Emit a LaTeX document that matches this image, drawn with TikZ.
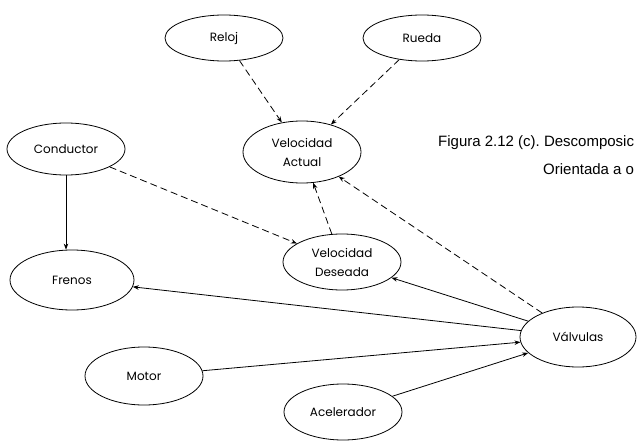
\documentclass[tikz,border=0pt]{standalone}
\usepackage{fontspec}
\setmainfont{Liberation Sans}
\newfontfamily\lblfont{Poppins}
\usetikzlibrary{shapes.geometric,arrows.meta}
\frenchspacing
\begin{document}
\begin{tikzpicture}[x=1pt,y=-1pt,
  ent/.style={draw,ellipse,line width=0.8pt,inner sep=0pt,minimum width=118pt,minimum height=56pt,font=\lblfont\fontsize{12}{19}\selectfont,align=center},
  conn/.style={line width=0.8pt,-{Stealth[length=6pt,width=4.5pt]}},
  dconn/.style={conn,dash pattern=on 7pt off 4pt},
  captxt/.style={font=\fontsize{15}{17}\selectfont,anchor=west,inner sep=0pt}]
\useasboundingbox (0,0) rectangle (637,441);
\clip (0,0) rectangle (637,441);
\node[ent,minimum height=46pt] (reloj) at (224,38) {Reloj};
\node[ent,minimum height=46pt] (rueda) at (422,38) {Rueda};
\node[ent,minimum height=62pt] (va) at (302,152) {Velocidad\\Actual};
\node[ent,minimum height=52pt] (cond) at (66,149) {Conductor};
\node[ent,minimum width=124pt,minimum height=60pt] (fren) at (72,280) {Frenos};
\node[ent] (vd) at (342,262) {Velocidad\\Deseada};
\node[ent,minimum height=58pt] (motor) at (144,376) {Motor};
\node[ent] (acel) at (343,412) {Acelerador};
\node[ent,minimum width=116pt,minimum height=60pt] (valv) at (578,337) {Válvulas};
\node[captxt] (cap1) at (438,143) {Figura 2.12 (c). Descomposic};
\node[captxt] (cap2) at (543,169) {Orientada a o};
\draw[dconn] (reloj) -- (va);
\draw[dconn] (rueda) -- (va);
\draw[conn] (cond.south) -- (cond.south |- fren.north);
\draw[dconn] (cond) -- (vd);
\draw[dconn] (vd) -- (va);
\draw[dconn] (valv) -- (va);
\draw[conn] (valv) -- (vd);
\draw[conn] (valv) -- (fren);
\draw[conn] (motor) -- (valv);
\draw[conn] (acel) -- (valv);
\end{tikzpicture}
\end{document}
